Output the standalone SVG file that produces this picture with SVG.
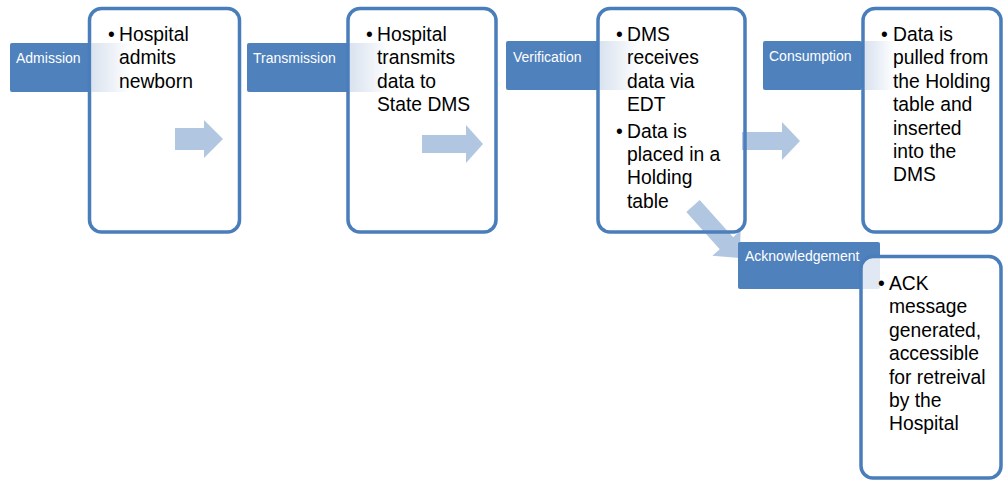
<svg xmlns="http://www.w3.org/2000/svg" width="1003" height="482" viewBox="0 0 1003 482">
  <style>
    .box { fill: #ffffff; fill-opacity: 0.82; stroke: #4a7ebb; stroke-width: 3.5; }
    .label { fill: #4f81bd; }
    .label-text { font-family: "Liberation Sans", Arial, sans-serif; font-size: 14px; fill: #ffffff; }
    .body { font-family: "Liberation Sans", Arial, sans-serif; font-size: 19.3px; fill: #000000; }
    .flow { fill: #4f81bd; fill-opacity: 0.45; }
  </style>
  <defs>
    <linearGradient id="glow" x1="0" y1="0" x2="1" y2="0">
      <stop offset="0" stop-color="#c9d6e8" stop-opacity="0.7"/>
      <stop offset="1" stop-color="#c9d6e8" stop-opacity="0"/>
    </linearGradient>
  </defs>
  <rect width="1003" height="482" fill="#ffffff"/>

  <!-- Stage: Admission -->
  <g id="admission">
    <rect class="label" x="10" y="43" width="82" height="49" rx="2"/>
    <rect class="box" x="89.5" y="8.5" width="150" height="223.5" rx="12"/>
    <rect x="91" y="43" width="40" height="49" fill="url(#glow)"/>
    <text class="label-text" x="16" y="63">Admission</text>
    <text class="body" x="108" y="41">•</text>
    <text class="body" x="119">
      <tspan x="119" y="41">Hospital</tspan>
      <tspan x="119" y="64.4">admits</tspan>
      <tspan x="119" y="87.8">newborn</tspan>
    </text>
  </g>

  <!-- Stage: Transmission -->
  <g id="transmission">
    <rect class="label" x="247" y="43" width="103" height="49" rx="2"/>
    <rect class="box" x="348" y="8.5" width="148" height="223.5" rx="12"/>
    <rect x="350" y="43" width="40" height="49" fill="url(#glow)"/>
    <text class="label-text" x="253" y="63">Transmission</text>
    <text class="body" x="366" y="41">•</text>
    <text class="body">
      <tspan x="377" y="41">Hospital</tspan>
      <tspan x="377" y="64.4">transmits</tspan>
      <tspan x="377" y="87.8">data to</tspan>
      <tspan x="377" y="111.2">State DMS</tspan>
    </text>
  </g>

  <!-- Stage: Verification -->
  <g id="verification">
    <rect class="label" x="506" y="41" width="94" height="49" rx="2"/>
    <rect class="box" x="598" y="8.5" width="147" height="223.5" rx="12"/>
    <rect x="600" y="41" width="40" height="49" fill="url(#glow)"/>
    <text class="label-text" x="513" y="61.5">Verification</text>
    <text class="body" x="616" y="41">•</text>
    <text class="body">
      <tspan x="627" y="41">DMS</tspan>
      <tspan x="627" y="64.4">receives</tspan>
      <tspan x="627" y="87.8">data via</tspan>
      <tspan x="627" y="111.2">EDT</tspan>
    </text>
    <text class="body" x="616" y="137.5">•</text>
    <text class="body">
      <tspan x="627" y="137.5">Data is</tspan>
      <tspan x="627" y="160.9">placed in a</tspan>
      <tspan x="627" y="184.3">Holding</tspan>
      <tspan x="627" y="207.7">table</tspan>
    </text>
  </g>

  <!-- Stage: Consumption -->
  <g id="consumption">
    <rect class="label" x="763" y="41" width="99" height="49" rx="2"/>
    <rect class="box" x="863" y="8.5" width="138" height="223.5" rx="12"/>
    <rect x="865" y="41" width="30" height="49" fill="url(#glow)"/>
    <text class="label-text" x="769" y="61">Consumption</text>
    <text class="body" x="881" y="41">•</text>
    <text class="body">
      <tspan x="893" y="41">Data is</tspan>
      <tspan x="893" y="64.4">pulled from</tspan>
      <tspan x="893" y="87.8">the Holding</tspan>
      <tspan x="893" y="111.2">table and</tspan>
      <tspan x="893" y="134.6">inserted</tspan>
      <tspan x="893" y="158">into the</tspan>
      <tspan x="893" y="181.4">DMS</tspan>
    </text>
  </g>

  <!-- Flow arrows between stages -->
  <g id="connectors">
    <path class="flow" d="M175 128 H204 V120 L223 139 L204 158 V150 H175 Z"/>
    <path class="flow" d="M422 135 H466 V125 L483 144 L466 163 V153 H422 Z"/>
    <path class="flow" d="M742 132 H782 V122 L800 141 L782 160 V150 H742 Z"/>
    <path class="flow" transform="translate(693 206) rotate(48)" d="M0 -9 H50 V-19 L70 0 L50 19 V9 H0 Z"/>
  </g>

  <!-- Stage: Acknowledgement -->
  <g id="acknowledgement">
    <rect class="label" x="738" y="242" width="142" height="47" rx="2"/>
    <text class="label-text" x="745" y="261">Acknowledgement</text>
    <rect class="box" x="861" y="256.5" width="140" height="221.5" rx="12"/>
    <text class="body" x="878" y="290">•</text>
    <text class="body">
      <tspan x="889" y="290">ACK</tspan>
      <tspan x="889" y="313.4">message</tspan>
      <tspan x="889" y="336.8">generated,</tspan>
      <tspan x="889" y="360.2">accessible</tspan>
      <tspan x="889" y="383.6">for retreival</tspan>
      <tspan x="889" y="407">by the</tspan>
      <tspan x="889" y="430.4">Hospital</tspan>
    </text>
  </g>
</svg>
